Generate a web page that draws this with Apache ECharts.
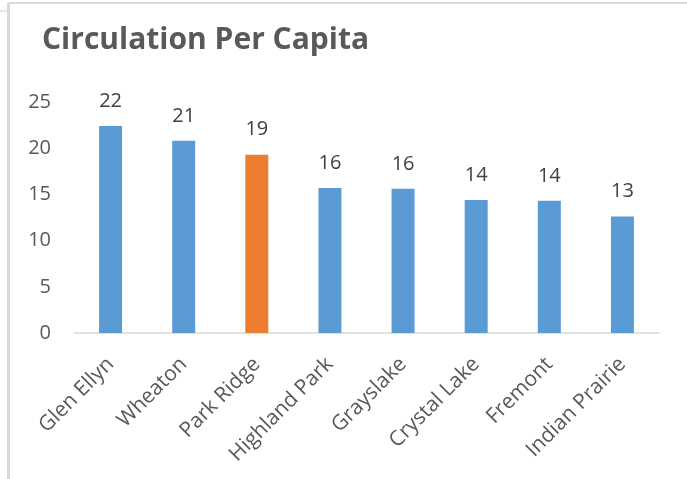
<!DOCTYPE html>
<html>
<head>
<meta charset="utf-8">
<script src="https://cdn.jsdelivr.net/npm/echarts@6/dist/echarts.min.js"></script>
<style>
html,body{margin:0;padding:0;background:#fff;}
#c{width:687px;height:479px;}
</style>
</head>
<body>
<div id="c"></div>
<script>
var categories = ['Glen Ellyn','Wheaton','Park Ridge','Highland Park','Grayslake','Crystal Lake','Fremont','Indian Prairie'];
var values = [22.4, 20.8, 19.3, 15.7, 15.6, 14.4, 14.3, 12.6];
var highlightCategory = 'Park Ridge';
var yTicks = [0, 5, 10, 15, 20, 25];

var BLUE = '#5B9BD5', ORANGE = '#ED7D31';
var FONT = 'Open Sans';
var chart = echarts.init(document.getElementById('c'), null, {renderer:'canvas'});
chart.setOption({
  animation:false,
  backgroundColor:'#ffffff',
  title:{
    text:'Circulation Per Capita',
    left:37, top:20,
    textStyle:{fontFamily:FONT, fontWeight:'bold', fontSize:30, color:'#595959'}
  },
  graphic:[
    {type:'rect', shape:{x:7, y:3, width:3, height:476}, style:{fill:'#d9d9d9'}},
    {type:'rect', shape:{x:9, y:2, width:678, height:2}, style:{fill:'#d9d9d9'}},
    {type:'rect', shape:{x:0, y:10, width:7, height:2}, style:{fill:'#e6e6e6'}}
  ],
  grid:{left:74, right:28, top:102, bottom:146},
  xAxis:{
    type:'category',
    data:categories,
    axisLine:{lineStyle:{color:'#d9d9d9', width:1.5}},
    axisTick:{show:false},
    axisLabel:{rotate:45, interval:0, margin:28, fontFamily:FONT, fontSize:21, color:'#595959'}
  },
  yAxis:{
    type:'value', min:yTicks[0], max:yTicks[yTicks.length-1], interval:5,
    axisLine:{show:false}, axisTick:{show:false},
    splitLine:{show:false},
    axisLabel:{margin:23, fontFamily:FONT, fontSize:20, color:'#595959'}
  },
  series:[{
    type:'bar',
    barWidth:23,
    data:values.map(function(v,i){
      return {value:v, itemStyle:{color: categories[i]===highlightCategory ? ORANGE : BLUE}};
    }),
    label:{
      show:true, position:'top', distance:15,
      fontFamily:FONT, fontSize:20, color:'#404040',
      formatter:function(p){return Math.round(p.value);}
    }
  }]
});
</script>
</body>
</html>
